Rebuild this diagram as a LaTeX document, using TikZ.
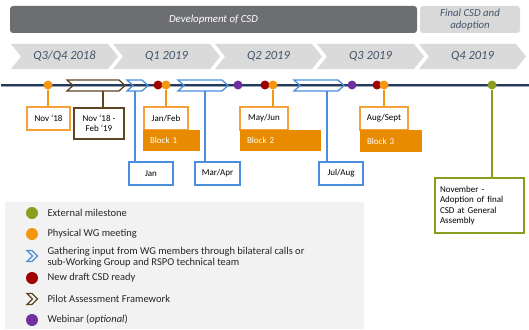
\documentclass[tikz,border=0pt]{standalone}
\usepackage{fontspec}
\setmainfont{Carlito}
\definecolor{darkbar}{HTML}{6D6E71}
\definecolor{lightbar}{HTML}{D9D9D9}
\definecolor{chevgray}{HTML}{DADADA}
\definecolor{qtext}{HTML}{44546A}
\definecolor{navy}{HTML}{23395B}
\definecolor{odot}{HTML}{F3970F}
\definecolor{oborder}{HTML}{F4A13A}
\definecolor{oblock}{HTML}{E88B00}
\definecolor{dred}{HTML}{A00000}
\definecolor{wpurple}{HTML}{7030A0}
\definecolor{mgreen}{HTML}{8C9C1E}
\definecolor{gblue}{HTML}{4A8FDC}
\definecolor{pbrown}{HTML}{5E4524}
\definecolor{legbg}{HTML}{F2F2F2}
\tikzset{
  dotmark/.style={circle, inner sep=0pt, minimum size=9pt, fill=#1, draw=none},
  legdot/.style={circle, inner sep=0pt, minimum size=12pt, fill=#1, draw=none},
  tlbox/.style={rectangle, draw=#1, line width=1.2pt, fill=white, inner sep=0pt,
    font=\fontsize{9}{10.5}\selectfont, align=center},
  blockbox/.style={rectangle, fill=oblock, draw=none, inner ysep=0pt, inner xsep=7pt,
    text=white, font=\fontsize{9}{10.5}\selectfont, align=left},
  conn/.style={line width=1.3pt, draw=#1},
  qlabel/.style={font=\fontsize{12.5}{14}\selectfont\itshape, text=qtext},
  legtext/.style={anchor=west, font=\fontsize{10.5}{11}\selectfont, align=left, text=black!85},
}
\newcommand\tlchev[3]{% x0, x1, color
  \draw[#3, line width=1.3pt, line join=miter]
    (#1,80) -- (#2-6,80) -- (#2,85.5) -- (#2-6,91) -- (#1,91) -- (#1+6,85.5) -- cycle;
}
\begin{document}
\begin{tikzpicture}[x=1pt, y=-1pt]
\useasboundingbox (0,0) rectangle (529,329);
% top bars
\node[rectangle, rounded corners=3pt, fill=darkbar, minimum width=407pt, minimum height=27pt,
  inner sep=0pt, text=white, font=\fontsize{10.8}{12}\selectfont\itshape] (dev) at (213.5,19.5) {Development of CSD};
\node[rectangle, rounded corners=3pt, fill=lightbar, minimum width=100pt, minimum height=27pt,
  inner sep=0pt, text=qtext, align=center, font=\fontsize{10.8}{12}\selectfont\itshape] (fin) at (470,19.5) {Final CSD and\\adoption};
% quarter chevrons
\foreach \i/\lab in {0/{Q3/Q4 2018},1/{Q1 2019},2/{Q2 2019},3/{Q3 2019},4/{Q4 2019}}{
  \pgfmathsetmacro\T{118+102*\i}
  \fill[chevgray] (\T-107,44) -- (\T-10,44) -- (\T,56.5) -- (\T-10,69) -- (\T-107,69) -- (\T-97,56.5) -- cycle;
  \node[qlabel] (q\i) at (\T-53.5,56.5) {\lab};
}
% timeline
\draw[navy!45, line width=3pt] (1,85) -- (529,85);
\draw[navy, line width=1.6pt] (1,85) -- (529,85);
% chevron arrows
\tlchev{67}{125}{pbrown}
\tlchev{127}{148}{gblue}
\tlchev{178}{228}{gblue}
\tlchev{294}{344}{gblue}
\coordinate (pa) at (103,91);
\coordinate (ga1) at (135,91);
\coordinate (ga2) at (205,91);
\coordinate (ga3) at (327,91);
% boxes
\node[tlbox=oborder, minimum width=43pt, minimum height=23pt] (nov) at (48.5,118.5) {Nov ‘18};
\node[tlbox=pbrown, minimum width=50pt, minimum height=31pt] (novfeb) at (99,123.5) {Nov ‘18 -\\Feb ‘19};
\node[tlbox=oborder, minimum width=44pt, minimum height=23pt] (janfeb) at (166,118.5) {Jan/Feb};
\node[blockbox, text width=43pt, minimum height=21pt] (block1) at (171.5,140.5) {Block 1};
\node[tlbox=gblue, minimum width=44pt, minimum height=23pt] (jan) at (151,173.5) {Jan};
\node[tlbox=gblue, minimum width=45pt, minimum height=23pt] (marapr) at (217.5,173.5) {Mar/Apr};
\node[tlbox=oborder, minimum width=48pt, minimum height=23pt] (mayjun) at (264,118.5) {May/Jun};
\node[blockbox, text width=67pt, minimum height=21pt] (block2) at (280.5,140.5) {Block 2};
\node[tlbox=gblue, minimum width=44pt, minimum height=23pt] (julaug) at (341,173.5) {Jul/Aug};
\node[tlbox=oborder, minimum width=48pt, minimum height=23pt] (augsept) at (384,118.5) {Aug/Sept};
\node[blockbox, text width=48pt, minimum height=22pt] (block3) at (391,141) {Block 3};
\node[tlbox=mgreen, minimum width=89pt, minimum height=55pt, text width=79pt, align=left] (novem) at (479.5,205.5) {November -\\Adoption of final\\CSD at General\\Assembly};
% dots
\node[dotmark=odot] (d1) at (48,85) {};
\node[dotmark=dred] (r1) at (158,85) {};
\node[dotmark=odot] (d2) at (166,85) {};
\node[dotmark=wpurple] (p1) at (238,85) {};
\node[dotmark=dred] (r2) at (265,85) {};
\node[dotmark=odot] (d3) at (273,85) {};
\node[dotmark=wpurple] (p2) at (352,85) {};
\node[dotmark=dred] (r3) at (377,85) {};
\node[dotmark=odot] (d4) at (384,85) {};
\node[dotmark=mgreen] (g1) at (492,85) {};
% connectors
\draw[conn=odot] (d1.south) -- (d1 |- nov.north);
\draw[conn=odot] (d2.south) -- (d2 |- janfeb.north);
\draw[conn=odot] (d3.south) -- (d3 |- mayjun.north);
\draw[conn=odot] (d4.south) -- (d4 |- augsept.north);
\draw[conn=mgreen] (g1.south) -- (g1 |- novem.north);
\draw[conn=pbrown] (pa) -- (pa |- novfeb.north);
\draw[conn=gblue] (ga1) -- (ga1 |- jan.north);
\draw[conn=gblue] (ga2) -- (ga2 |- marapr.north);
\draw[conn=gblue] (ga3) -- (ga3 |- julaug.north);
% legend
\fill[legbg] (5,202) rectangle (364,329);
\node[legdot=mgreen] (l1) at (32,213) {};
\node[legtext] (t1) at (44,213) {External milestone};
\node[legdot=odot] (l2) at (32,234) {};
\node[legtext] (t2) at (44,234) {Physical WG meeting};
\draw[gblue, line width=1.3pt, line join=miter] (27,250.5) -- (32,250.5) -- (37.5,256) -- (32,261.5) -- (27,261.5) -- (32.5,256) -- cycle;
\coordinate (l3) at (32,256);
\node[legtext] (t3) at (44,257) {Gathering input from WG members through bilateral calls or\\sub-Working Group and RSPO technical team};
\node[legdot=dred] (l4) at (32,278) {};
\node[legtext] (t4) at (44,278) {New draft CSD ready};
\draw[pbrown, line width=1.3pt, line join=miter] (27,293.5) -- (32,293.5) -- (37.5,299) -- (32,304.5) -- (27,304.5) -- (32.5,299) -- cycle;
\coordinate (l5) at (32,299);
\node[legtext] (t5) at (44,299) {Pilot Assessment Framework};
\node[legdot=wpurple] (l6) at (32,320) {};
\node[legtext] (t6) at (44,320) {Webinar (\textit{optional})};
\end{tikzpicture}
\end{document}
